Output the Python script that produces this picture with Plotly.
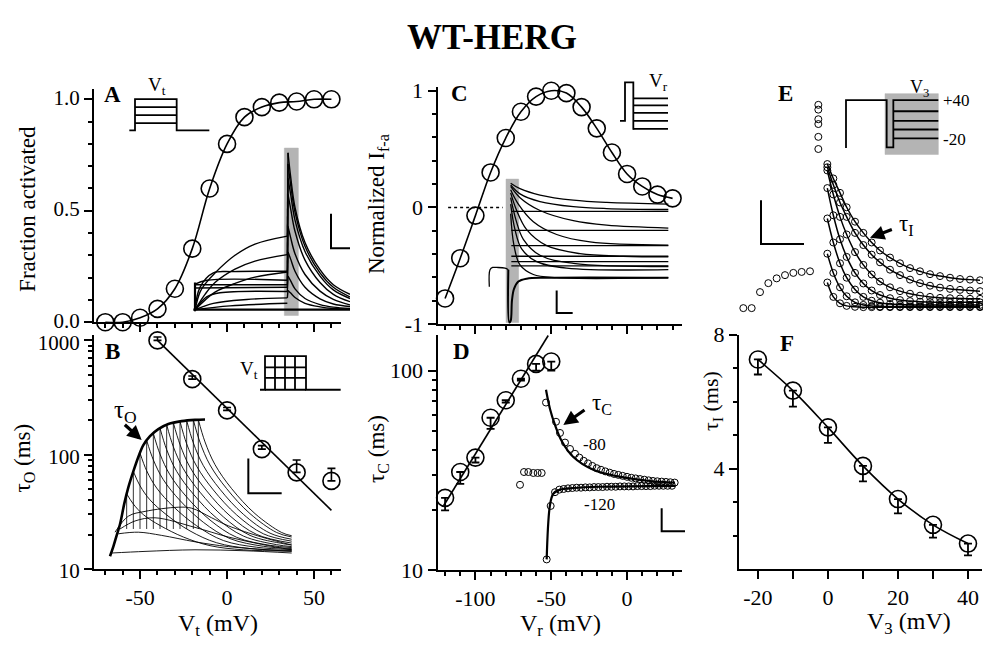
import plotly.graph_objects as go

W, H = 983, 656
SERIF = "Liberation Serif"
BLACK = "black"
GRAY = "rgb(180,180,180)"

# ------------------------------------------------------------------ main data
# Panel A - fraction activated vs Vt
A_v = [-70, -60, -50, -40, -30, -20, -10, 0, 10, 20, 30, 40, 50, 60]
A_frac = [0.0, 0.0, 0.02, 0.06, 0.15, 0.33, 0.60, 0.80, 0.92, 0.965, 0.985, 0.99, 1.0, 1.0]

# Panel B - tau_O vs Vt
B_v = [-40, -20, 0, 20, 40, 60]
B_tau = [1000, 458, 244, 112, 70, 59]
B_err_up = [70, 30, 15, 8, 20, 17]
B_fit_v = [-40, 60]
B_fit_tau = [1000, 32.6]

# Panel C - normalized I f-a vs Vr
C_v = [-120, -110, -100, -90, -80, -70, -60, -50, -40, -30, -20, -10, 0, 10, 20, 30]
C_I = [-0.78, -0.435, -0.07, 0.30, 0.595, 0.82, 0.95, 1.0, 0.98, 0.86, 0.678, 0.471, 0.287, 0.18, 0.11, 0.078]
C_zero_v = [-118, -82]
C_zero_I = [0, 0]

# Panel D - tau_C vs Vr
D_v = [-120, -110, -100, -90, -80, -70, -60, -50]
D_tau = [23, 31, 36.6, 58, 71, 91, 108, 111]
D_err_dn = [3.1, 4, 2, 7, 2, 2, 8, 11]
D_fit_v = [-121, -52]
D_fit_tau = [21, 150]

# Panel F - tau_I vs V3
F_v = [-20, -10, 0, 10, 20, 30, 40]
F_tau = [7.26, 6.33, 5.23, 4.08, 3.09, 2.32, 1.76]
F_err_dn = [0.45, 0.48, 0.46, 0.46, 0.43, 0.38, 0.35]

# ------------------------------------------------------------------ inset data (inset units)
# A inset: current traces
iA_bar_x = [313, 355, 355, 313, 313]
iA_bar_y = [5, 5, 528, 528, 5]
iA_act = [
    ([45, 60, 75, 105, 165, 225, 322], [510, 455, 430, 395, 340, 305, 280]),
    ([45, 75, 105, 165, 225, 322], [510, 462, 425, 383, 358, 338]),
    ([45, 60, 100, 160, 322], [510, 440, 395, 391, 390]),
    ([45, 75, 105, 165, 225, 322], [510, 480, 455, 428, 408, 392]),
    ([45, 80, 322], [430, 418, 418]),
    ([45, 322], [432, 432]),
    ([45, 322], [442, 440]),
    ([45, 80, 120, 322], [510, 470, 457, 453]),
    ([45, 100, 200, 322], [510, 490, 478, 473]),
    ([45, 150, 322], [510, 498, 490]),
]
iA_tail_t = [324, 332, 345, 375, 420, 460, 510]
iA_tails = [
    [20, 95, 190, 300, 385, 432, 462],
    [55, 120, 205, 312, 395, 440, 470],
    [100, 150, 230, 328, 405, 448, 475],
    [150, 195, 265, 355, 425, 462, 485],
    [250, 285, 335, 400, 452, 478, 495],
    [330, 352, 390, 440, 476, 492, 500],
    [405, 420, 445, 475, 494, 502, 506],
    [450, 458, 472, 490, 501, 506, 508],
]
iA_tail_from = [280, 338, 390, 418, 432, 440, 453, 473]
iA_base_x = [40, 510]
iA_base_y = [510, 510]
iA_start_x = [45, 45]
iA_start_y = [425, 515]
iA_scale_x = [453, 453, 510]
iA_scale_y = [210, 318, 318]

# A protocol
pA_x = [388, 405, 405, 530, 530, 628, None, 405, 530, None, 405, 530, None, 405, 530]
pA_y = [190, 190, 92, 92, 190, 190, None, 117, 117, None, 142, 142, None, 167, 167]

# B inset: envelope + tail traces
iB_env_x = [45, 55, 65, 75, 88, 100, 115, 130, 145, 165, 190, 220, 260, 300, 330]
iB_env_y = [515, 485, 450, 415, 350, 300, 250, 205, 168, 140, 118, 102, 93, 89, 88]
iB_traces = [
    ([95, 115, 145, 195, 265, 345, 445, 590], [320, 352, 385, 419, 455, 482, 495, 499]),
    ([115, 135, 165, 215, 285, 365, 465, 590], [250, 295, 339, 386, 436, 473, 491, 497]),
    ([135, 155, 185, 235, 305, 385, 485, 590], [193, 248, 302, 360, 420, 466, 487, 494]),
    ([155, 175, 205, 255, 325, 405, 505, 590], [153, 214, 276, 341, 409, 460, 484, 491]),
    ([175, 195, 225, 275, 345, 425, 525, 590], [131, 196, 261, 330, 402, 456, 481, 488]),
    ([195, 215, 245, 295, 365, 445, 545, 590], [115, 182, 250, 321, 396, 452, 479, 485]),
    ([215, 235, 265, 315, 385, 465, 565, 590], [104, 173, 242, 315, 392, 450, 476, 480]),
    ([235, 255, 285, 335, 405, 485, 590], [98, 166, 237, 311, 389, 447, 474]),
    ([255, 275, 305, 355, 425, 505, 590], [94, 164, 234, 308, 386, 445, 468]),
    ([275, 295, 325, 375, 445, 525, 590], [91, 161, 232, 306, 384, 443, 462]),
    ([295, 315, 345, 395, 465, 545, 590], [89, 159, 230, 304, 382, 441, 455]),
    ([310, 330, 360, 410, 480, 560, 590], [88.5, 158, 229, 304, 382, 441, 451]),
]
iB_humps = [
    ([60, 100, 150, 250, 290, 350, 400, 500, 590], [440, 390, 375, 362, 365, 395, 420, 455, 480]),
    ([75, 120, 180, 300, 400, 500, 590], [430, 405, 395, 425, 455, 478, 495]),
    ([70, 130, 200, 300, 400, 590], [445, 440, 450, 470, 485, 500]),
    ([50, 150, 300, 450, 590], [505, 500, 495, 498, 505]),
]
iB_scale_x = [460, 460, 560]
iB_scale_y = [210, 318, 318]

# B protocol
pB_x = [780, 795, 795, 918, 918, 1022, None, 795, 918, None, 795, 918, None, 795, 918,
        None, 825, 825, None, 855, 855, None, 885, 885]
pB_y = [220, 220, 115, 115, 220, 220, None, 150, 150, None, 183, 183, None, 220, 220,
        None, 115, 220, None, 115, 220, None, 115, 220]

# C inset: current traces
iC_bar_x = [198, 236, 236, 198, 198]
iC_bar_y = [42, 42, 490, 490, 42]
iC_decay = [
    ([212, 240, 300, 400, 500, 685], [55, 72, 92, 108, 115, 120]),
    ([212, 240, 300, 400, 500, 685], [60, 88, 112, 128, 134, 137]),
    ([212, 240, 300, 400, 500, 685], [65, 100, 140, 172, 186, 195]),
    ([212, 235, 280, 350, 450, 685], [75, 120, 175, 215, 238, 248]),
    ([212, 230, 260, 320, 420, 550, 685], [85, 140, 200, 250, 275, 283, 285]),
    ([212, 228, 250, 300, 400, 685], [100, 170, 230, 280, 305, 315]),
    ([212, 225, 245, 290, 380, 685], [120, 200, 260, 300, 320, 325]),
    ([212, 222, 240, 280, 350, 685], [150, 250, 310, 340, 350, 350]),
]
iC_flat_levels = [143, 202, 250, 283, 300, 313]
iC_flat_x = [214, 685]
iC_pre_x = [148, 150, 158, 170, 195, 205]
iC_pre_y = [378, 325, 318, 318, 320, 325]
iC_spike_x = [205, 208, 212, 216, 222, 235, 260, 320, 685]
iC_spike_y = [325, 490, 485, 420, 385, 362, 353, 350, 350]
iC_scale_x = [350, 350, 398]
iC_scale_y = [390, 460, 460]

# C protocol
pC_x = [870, 885, 885, 910, 910, None, 910, 1014, None, 910, 1014, None, 910, 1014,
        None, 910, 1014, None, 910, 1014]
pC_y = [160, 160, 40, 40, 188, None, 90, 90, None, 112, 112, None, 135, 135,
        None, 160, 160, None, 185, 185]

# D inset: tail currents and fits
iD_up_x = [138, 150, 165, 185, 220, 280, 350, 450, 525]
iD_up_y = [40, 100, 150, 200, 250, 290, 310, 325, 330]
iD_lo_x = [140, 150, 160, 180, 220, 300, 525]
iD_lo_y = [570, 400, 365, 352, 347, 343, 340]
iD_upc_x = [138, 168, 180, 195, 210, 225, 238, 251, 264, 277, 290, 303, 316, 329, 342, 355, 368, 381,
            394, 407, 420, 433, 446, 459, 472, 485, 498, 511, 524]
iD_upc_y = [80, 140, 175, 205, 225, 240, 252, 262, 270, 278, 285, 290, 295, 299, 303, 306, 309, 312,
            315, 317, 319, 321, 323, 325, 326, 327, 328, 329, 330]
iD_loc_x = [140, 152, 165, 178, 191, 204, 217, 230, 243, 256, 269, 282, 295, 308, 321, 334, 347, 360,
            373, 386, 399, 412, 425, 438, 451, 464, 477, 490, 503, 516]
iD_loc_y = [570, 403, 360, 352, 350, 348, 347, 346, 346, 345, 345, 344, 344, 344, 343, 343, 343, 342,
            342, 342, 342, 341, 341, 341, 341, 340, 340, 340, 340, 340]
iD_iso_x = [60, 72, 85, 100, 113, 125]
iD_iso_y = [337, 297, 297, 300, 300, 300]
iD_scale_x = [485, 485, 555]
iD_scale_y = [410, 482, 482]

# E inset: inactivation traces
iE_box_x = [465, 625, 625, 465, 465]
iE_box_y = [45, 45, 235, 235, 45]
iE_prot_x = [348, 348, 470, 470, 490, 490, 625, None, 490, 625, None, 490, 625, None, 490, 625,
             None, 490, 625]
iE_prot_y = [215, 65, 65, 213, 213, 65, 65, None, 100, 100, None, 130, 130, None, 157, 157,
             None, 185, 185]
iE_pre_x = [265, 265, 265, 265, 265, 265]
iE_pre_y = [80, 95, 125, 140, 180, 218]
iE_arc_x = [40, 65, 90, 115, 140, 165, 190, 215, 240]
iE_arc_y = [715, 715, 665, 637, 622, 612, 605, 602, 600]
iE_t = [292, 310, 330, 350, 375, 400, 425, 450, 480, 510, 540, 570, 600, 630, 660, 690, 720, 750]
iE_curves = [
    [265, 310, 355, 400, 445, 480, 510, 535, 557, 575, 590, 600, 609, 615, 620, 624, 626, 628],
    [275, 330, 385, 430, 480, 518, 548, 572, 595, 612, 626, 637, 645, 651, 655, 658, 660, 662],
    [285, 360, 430, 485, 540, 580, 610, 632, 650, 662, 670, 676, 680, 683, 684, 685, 686, 686],
    [340, 425, 500, 555, 605, 638, 660, 674, 684, 690, 693, 695, 696, 697, 697, 697, 697, 697],
    [435, 510, 575, 620, 657, 680, 692, 698, 702, 704, 705, 705, 705, 705, 705, 705, 705, 705],
    [545, 605, 650, 678, 697, 705, 708, 710, 710, 710, 710, 710, 710, 710, 710, 710, 710, 710],
    [635, 680, 700, 708, 711, 712, 712, 712, 712, 712, 712, 712, 712, 712, 712, 712, 712, 712],
]
iE_scale_x = [93, 93, 222]
iE_scale_y = [378, 515, 515]

# ------------------------------------------------------------------ helpers
fig = go.Figure()


def refs(n):
    return ("x" if n == 1 else f"x{n}"), ("y" if n == 1 else f"y{n}")


def add_line(n, xs, ys, width=1.2, shape="linear", dash=None, fill=None, fillcolor=None, color=BLACK):
    xr, yr = refs(n)
    fig.add_trace(go.Scatter(
        x=xs, y=ys, mode="lines", xaxis=xr, yaxis=yr,
        line=dict(color=color, width=width, shape=shape, dash=dash),
        fill=fill, fillcolor=fillcolor, hoverinfo="skip", showlegend=False))


def add_circles(n, xs, ys, size=16, lw=1.6, err=None):
    xr, yr = refs(n)
    fig.add_trace(go.Scatter(
        x=xs, y=ys, mode="markers", xaxis=xr, yaxis=yr, cliponaxis=False,
        marker=dict(symbol="circle-open", size=size, color=BLACK, line=dict(width=lw, color=BLACK)),
        error_y=err, hoverinfo="skip", showlegend=False))


def xdom(x0, x1):
    return [x0 / W, x1 / W]


def ydom(top, bot):
    return [1 - bot / H, 1 - top / H]


# ------------------------------------------------------------------ main panels
# A
add_line(1, A_v, A_frac, width=1.6, shape="spline")
add_circles(1, A_v, A_frac, size=17)
# B
add_line(2, B_fit_v, B_fit_tau, width=1.6)
add_circles(2, B_v, B_tau, size=17,
            err=dict(type="data", symmetric=False, array=B_err_up, arrayminus=[0] * len(B_v),
                     color=BLACK, thickness=1.6, width=4))
# C
add_line(3, C_zero_v, C_zero_I, width=1.5, dash="dot")
add_line(3, C_v, C_I, width=1.6, shape="spline")
add_circles(3, C_v, C_I, size=17)
# D
add_line(4, D_fit_v, D_fit_tau, width=1.6)
add_circles(4, D_v, D_tau, size=17,
            err=dict(type="data", symmetric=False, array=[0] * len(D_v), arrayminus=D_err_dn,
                     color=BLACK, thickness=1.8, width=4))
# F
add_line(5, F_v, F_tau, width=1.6, shape="spline")
add_circles(5, F_v, F_tau, size=17,
            err=dict(type="data", symmetric=False, array=[0] * len(F_v), arrayminus=F_err_dn,
                     color=BLACK, thickness=1.8, width=4))

# ------------------------------------------------------------------ insets
# 6: A traces
add_line(6, iA_bar_x, iA_bar_y, width=0.5, fill="toself", fillcolor=GRAY, color=GRAY)
for xs, ys in iA_act:
    add_line(6, xs, ys, width=1.4, shape="spline")
for lvl, tail in zip(iA_tail_from, iA_tails):
    add_line(6, [322, 324], [lvl, tail[0]], width=1.4)
    add_line(6, iA_tail_t, tail, width=1.4, shape="spline")
add_line(6, iA_base_x, iA_base_y, width=2.2)
add_line(6, iA_start_x, iA_start_y, width=2.2)
add_line(6, iA_scale_x, iA_scale_y, width=2)
# 7: A protocol
add_line(7, pA_x, pA_y, width=1.8)
# 8: B traces
for xs, ys in iB_traces:
    add_line(8, [xs[0], xs[0]], [430 if ys[0] < 430 else ys[0], ys[0]], width=0.8)
    add_line(8, xs, ys, width=0.9, shape="spline")
for xs, ys in iB_humps:
    add_line(8, xs, ys, width=0.9, shape="spline")
add_line(8, iB_env_x, iB_env_y, width=2.6, shape="spline")
add_line(8, iB_scale_x, iB_scale_y, width=2)
# 9: B protocol
add_line(9, pB_x, pB_y, width=1.8)
# 10: C traces
add_line(10, iC_bar_x, iC_bar_y, width=0.5, fill="toself", fillcolor=GRAY, color=GRAY)
for xs, ys in iC_decay:
    add_line(10, xs, ys, width=1.3, shape="spline")
for lvl in iC_flat_levels:
    add_line(10, iC_flat_x, [lvl, lvl], width=1.3)
add_line(10, iC_pre_x, iC_pre_y, width=1.3, shape="spline")
add_line(10, iC_spike_x, iC_spike_y, width=2.0, shape="spline")
add_line(10, iC_scale_x, iC_scale_y, width=2)
# 11: C protocol
add_line(11, pC_x, pC_y, width=1.8)
# 12: D traces
add_line(12, iD_up_x, iD_up_y, width=2.2, shape="spline")
add_line(12, iD_lo_x, iD_lo_y, width=2.2, shape="spline")
add_circles(12, iD_upc_x, iD_upc_y, size=7, lw=1)
add_circles(12, iD_loc_x, iD_loc_y, size=7, lw=1)
add_circles(12, iD_iso_x, iD_iso_y, size=7, lw=1)
add_line(12, iD_scale_x, iD_scale_y, width=2)
# 13: E traces
add_line(13, iE_box_x, iE_box_y, width=0.5, fill="toself", fillcolor=GRAY, color=GRAY)
add_line(13, iE_prot_x, iE_prot_y, width=1.8)
for cy in iE_curves:
    add_line(13, iE_t, cy, width=1.5, shape="spline")
    add_circles(13, iE_t, cy, size=7, lw=1)
add_circles(13, iE_pre_x, iE_pre_y, size=7, lw=1)
add_circles(13, iE_arc_x, iE_arc_y, size=7, lw=1)
add_line(13, iE_scale_x, iE_scale_y, width=2)

# ------------------------------------------------------------------ axes
tickfont = dict(family=SERIF, size=22, color=BLACK)
common = dict(showline=True, linecolor=BLACK, linewidth=2, ticks="outside", tickcolor=BLACK,
              tickwidth=1.5, ticklen=8, showgrid=False, zeroline=False, tickfont=tickfont,
              fixedrange=True)


def minor(vals, ln=4):
    return dict(tickmode="array", tickvals=vals, ticks="outside", ticklen=ln, tickwidth=1.5,
                tickcolor=BLACK, showgrid=False)


lay = {}
vx_minor = [-70, -60, -40, -30, -20, -10, 10, 20, 30, 40, 60]
lay["xaxis"] = dict(common, domain=xdom(94, 341), range=[-76.5, 65.5], anchor="y",
                    tickmode="array", tickvals=[-50, 0, 50], showticklabels=False, minor=minor(vx_minor))
lay["yaxis"] = dict(common, domain=ydom(80, 323), range=[0, 1.047], anchor="x",
                    tickmode="array", tickvals=[0, 0.5, 1.0], ticktext=["0.0", "0.5", "1.0"],
                    tickfont=dict(family=SERIF, size=21, color=BLACK), ticklabelshift=-2,
                    minor=minor([0.1, 0.2, 0.3, 0.4, 0.6, 0.7, 0.8, 0.9]))
lay["xaxis2"] = dict(common, domain=xdom(94, 341), range=[-76.5, 65.5], anchor="y2",
                     tickmode="array", tickvals=[-50, 0, 50], ticktext=["-50", "0", "50"],
                     minor=minor(vx_minor))
lay["yaxis2"] = dict(common, domain=ydom(336, 580), type="log", range=[1, 3.05], anchor="x2",
                     tickmode="array", tickvals=[10, 100, 1000], ticktext=["10", "100", "1000"],
                     tickfont=dict(family=SERIF, size=21, color=BLACK), ticklabelshift=2,
                     minor=minor([20, 30, 40, 50, 60, 70, 80, 90, 200, 300, 400, 500, 600, 700, 800, 900]))
vr_minor = [-120, -110, -90, -80, -70, -60, -40, -30, -20, -10, 10, 20, 30]
lay["xaxis3"] = dict(common, domain=xdom(437.5, 682), range=[-125, 36.2], anchor="y3",
                     tickmode="array", tickvals=[-100, -50, 0], showticklabels=False, minor=minor(vr_minor))
lay["yaxis3"] = dict(common, domain=ydom(78, 325), range=[-1, 1.033], anchor="x3",
                     tickmode="array", tickvals=[-1, 0, 1], ticktext=["-1", "0", "1"],
                     minor=minor([-0.8, -0.6, -0.4, -0.2, 0.2, 0.4, 0.6, 0.8]))
lay["xaxis4"] = dict(common, domain=xdom(437.5, 682), range=[-125, 36.2], anchor="y4",
                     tickmode="array", tickvals=[-100, -50, 0], ticktext=["-100", "-50", "0"],
                     minor=minor(vr_minor))
lay["yaxis4"] = dict(common, domain=ydom(336, 581), type="log", range=[1, 2.18], anchor="x4",
                     tickmode="array", tickvals=[10, 100], ticktext=["10", "100"],
                     minor=minor([20, 30, 40, 50, 60, 70, 80, 90]))
lay["xaxis5"] = dict(common, domain=xdom(739, 982), range=[-25.4, 44], anchor="y5",
                     tickmode="array", tickvals=[-20, 0, 20, 40], ticktext=["-20", "0", "20", "40"],
                     minor=minor([-10, 10, 30], ln=8))
lay["yaxis5"] = dict(common, domain=ydom(336, 580), range=[1, 8], anchor="x5",
                     tickmode="array", tickvals=[4, 8], ticktext=["4", "8"],
                     minor=minor([2, 3, 5, 6, 7]))

insets = {
    6: (180, 140, 170, 190),
    7: (0, 60, 330, 280),
    8: (95, 395, 200, 190),
    9: (0, 320, 345, 336),
    10: (440, 160, 240, 175),
    11: (330, 60, 350, 280),
    12: (500, 380, 190, 200),
    13: (730, 70, 253, 250),
}
for n, (x0, y0, w, h) in insets.items():
    lay[f"xaxis{n}"] = dict(domain=xdom(x0, x0 + w), range=[0, 3 * w], visible=False,
                            fixedrange=True, anchor=f"y{n}")
    lay[f"yaxis{n}"] = dict(domain=ydom(y0, y0 + h), range=[3 * h, 0], visible=False,
                            fixedrange=True, anchor=f"x{n}")

# ------------------------------------------------------------------ annotations
ann = []


def ptext(px, py, text, size=22, angle=0, bold=False):
    ann.append(dict(x=px / W, y=1 - py / H, xref="paper", yref="paper", text=f"<b>{text}</b>" if bold else text,
                    showarrow=False, textangle=angle, xanchor="center", yanchor="middle",
                    font=dict(family=SERIF, size=size, color=BLACK)))


def itext(n, x, y, text, size=18, bold=False, xanchor="center"):
    ann.append(dict(x=x, y=y, xref=f"x{n}", yref=f"y{n}", text=f"<b>{text}</b>" if bold else text,
                    showarrow=False, xanchor=xanchor, yanchor="middle",
                    font=dict(family=SERIF, size=size, color=BLACK)))


def iarrow(n, x, y, ax, ay):
    ann.append(dict(x=x, y=y, ax=ax, ay=ay, xref=f"x{n}", yref=f"y{n}", axref=f"x{n}", ayref=f"y{n}",
                    text="", showarrow=True, arrowhead=2, arrowsize=0.9, arrowwidth=3.2, arrowcolor=BLACK))


ptext(492, 27, "WT-HERG", size=35, bold=True)
ptext(112, 86, "A", size=23, bold=True)
ptext(112, 353, "B", size=23, bold=True)
ptext(459, 85, "C", size=23, bold=True)
ptext(461, 353, "D", size=23, bold=True)
ptext(787, 345, "F", size=23, bold=True)

ptext(28, 205, "Fraction activated", size=23, angle=-90)
ptext(24, 465, "τ<sub>O</sub> (ms)", size=23, angle=-90)
ptext(378, 200, "Normalized I<sub>f-a</sub>", size=23, angle=-90)
ptext(378, 455, "τ<sub>C</sub> (ms)", size=23, angle=-90)
ptext(712, 405, "τ<sub>I</sub> (ms)", size=22, angle=-90)
ptext(218, 638, "V<sub>t</sub> (mV)", size=24)
ptext(560, 638, "V<sub>r</sub> (mV)", size=24)
ptext(909, 636, "V<sub>3</sub> (mV)", size=24)

itext(7, 470, 52, "V<sub>t</sub>", size=19)
itext(9, 748, 158, "V<sub>t</sub>", size=19)
itext(11, 985, 40, "V<sub>r</sub>", size=19)
itext(8, 92, 62, "τ<sub>O</sub>", size=25)
iarrow(8, 140, 152, 85, 100)
itext(12, 305, 85, "τ<sub>C</sub>", size=23)
iarrow(12, 190, 150, 258, 100)
itext(12, 283, 212, "-80", size=17)
itext(12, 297, 398, "-120", size=17)
itext(13, 165, 45, "E", size=23, bold=True)
itext(13, 568, 28, "V<sub>3</sub>", size=18)
itext(13, 632, 68, "+40", size=17, xanchor="left")
itext(13, 632, 188, "-20", size=17, xanchor="left")
itext(13, 530, 455, "τ<sub>I</sub>", size=23)
iarrow(13, 420, 495, 490, 468)

fig.update_layout(
    width=W, height=H, margin=dict(l=0, r=0, t=0, b=0),
    paper_bgcolor="white", plot_bgcolor="rgba(0,0,0,0)",
    showlegend=False, annotations=ann,
    font=dict(family=SERIF, color=BLACK),
    **lay,
)

fig.write_html("out.html")
